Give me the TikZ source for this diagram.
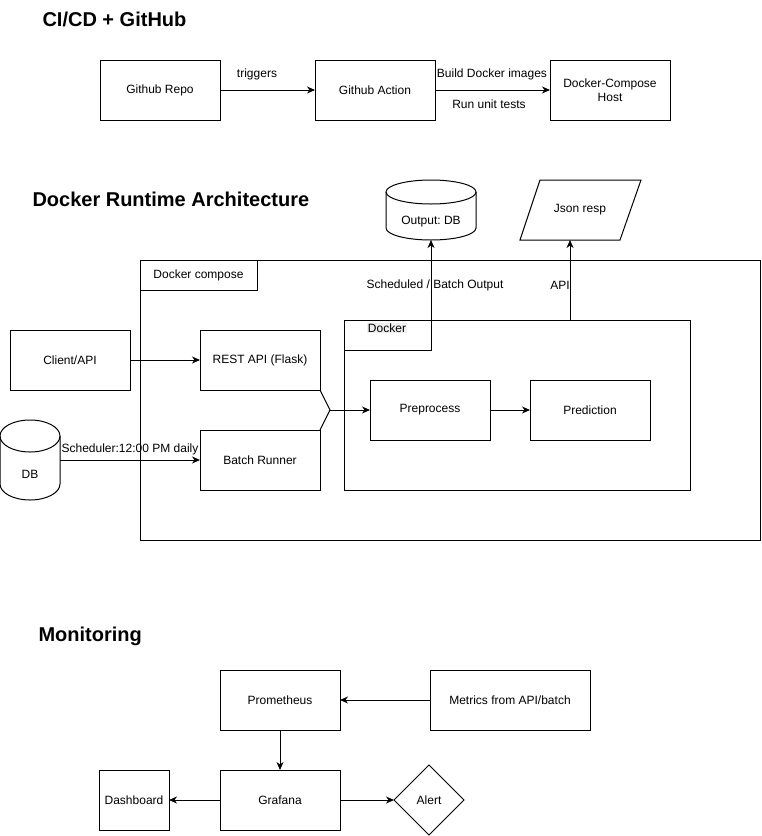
\documentclass[tikz,border=0pt]{standalone}
\usepackage{fontspec}
\setmainfont{Liberation Sans}
\usepackage{tikz}
\usetikzlibrary{shapes.geometric,arrows.meta}
\frenchspacing

% cylinder drawn round a named (invisible) node: #1 name, #2 x radius, #3 y radius
\newcommand{\drawcyl}[3]{%
  \draw ([yshift=-#3pt]#1.north) ellipse [x radius=#2pt, y radius=#3pt];
  \draw ([yshift=-#3pt]#1.north west) -- ([yshift=#3pt]#1.south west)
    arc [start angle=180, end angle=360, x radius=#2pt, y radius=#3pt]
    -- ([yshift=-#3pt]#1.north east);
}

\begin{document}
\begin{tikzpicture}[x=1pt,y=-1pt,line width=1pt,
  box/.style={draw, minimum width=120pt, minimum height=60pt, inner sep=0pt, outer sep=0pt,
    align=center, font=\fontsize{12}{14}\selectfont},
  frame/.style={draw, anchor=north west, inner sep=0pt, outer sep=0pt},
  cylbox/.style={inner sep=0pt, outer sep=0pt},
  lbl/.style={inner sep=0pt, font=\fontsize{12}{14}\selectfont},
  ttl/.style={inner sep=0pt, anchor=west, font=\fontsize{20}{24}\selectfont\bfseries},
  alertbox/.style={draw, shape=diamond, aspect=1, minimum width=70pt, minimum height=70pt,
    inner sep=0pt, outer sep=0pt, font=\fontsize{12}{14}\selectfont},
  arr/.style={-{Stealth[length=8pt,width=7pt,inset=2.5pt]}}]
\useasboundingbox (0,0) rectangle (762,836);
%\draw[help lines,step=20] (0,0) grid (762,836);

% CI/CD
\node[ttl] (ttlci) at (42,19) {CI/CD + GitHub};
\node[box] (repo) at (160,90) {Github Repo};
\node[box] (action) at (375,90) {Github Action};
\node[box] (host) at (610,90) {Docker-Compose\\Host};
\draw[arr] (repo) -- (action);
\draw[arr] (action) -- (host);
\node[lbl] (ltrig) at (257,74) {triggers};
\node[lbl] (lbuild) at (492,74) {Build Docker images};
\node[lbl] (ltest) at (489,104) {Run unit tests};

% runtime
\node[ttl] (ttlrun) at (32,199) {Docker Runtime Architecture};
\node[frame, minimum width=620pt, minimum height=280pt] (compose) at (140,260) {};
\node[box, anchor=north west, minimum width=117pt, minimum height=30pt] (composelbl) at (140,260) {Docker compose};
\node[frame, minimum width=346pt, minimum height=170pt] (docker) at (344,320) {};
\node[frame, minimum width=87pt, minimum height=30pt] (dockerlbl) at (344,320) {};
\node[lbl, fill=black!6, inner sep=1pt] (dockertxt) at (387,328) {Docker};

\node[box] (client) at (70,360) {Client/API};
\node[box] (rest) at (260,360) {REST API (Flask)};
\node[box] (batch) at (260,460) {Batch Runner};
\node[box] (prep) at (430,410) {Preprocess};
\node[box] (pred) at (590,410) {Prediction};

\node[cylbox, minimum width=60pt, minimum height=80pt] (db) at (30,460) {};
\drawcyl{db}{30}{16}
\node[lbl] (dbtxt) at (30,474) {DB};
\node[cylbox, minimum width=90pt, minimum height=60pt] (outdb) at (431,210) {};
\drawcyl{outdb}{45}{12}
\node[lbl] (outdbtxt) at (431,222) {Output: DB};

\node[lbl] (json) at (580,210) {Json resp};
\draw (540,180) -- (641,180) -- (620,240) -- (520,240) -- cycle;
\coordinate (jsonin) at (570,240);

\draw[arr] (client) -- (rest);
\draw[arr] (db) -- (batch);
\node[lbl] (lsched) at (130,449) {Scheduler:12:00 PM daily};
\coordinate (join) at (330,410);
\draw (rest.south east) -- (join) -- (batch.north east);
\draw[arr] (join) -- (prep);
\draw[arr] (prep) -- (pred);
\draw[arr] (dockerlbl.north east) -- (outdb.south);
\draw[arr] (docker.north -| jsonin) -- (jsonin);
\node[lbl] (lout) at (435,285) {Scheduled / Batch Output};
\node[lbl] (lapi) at (560,285) {API};

% monitoring
\node[ttl] (ttlmon) at (38,636) {Monitoring};
\node[box] (prom) at (280,700) {Prometheus};
\node[box, minimum width=160pt] (metrics) at (510,700) {Metrics from API/batch};
\node[box] (grafana) at (280,800) {Grafana};
\node[box, minimum width=70pt] (dash) at (134,800) {Dashboard};
\node[alertbox] (alert) at (429,800) {Alert};
\draw[arr] (metrics) -- (prom);
\draw[arr] (prom) -- (grafana);
\draw[arr] (grafana) -- (dash);
\draw[arr] (grafana) -- (alert);
\end{tikzpicture}
\end{document}
